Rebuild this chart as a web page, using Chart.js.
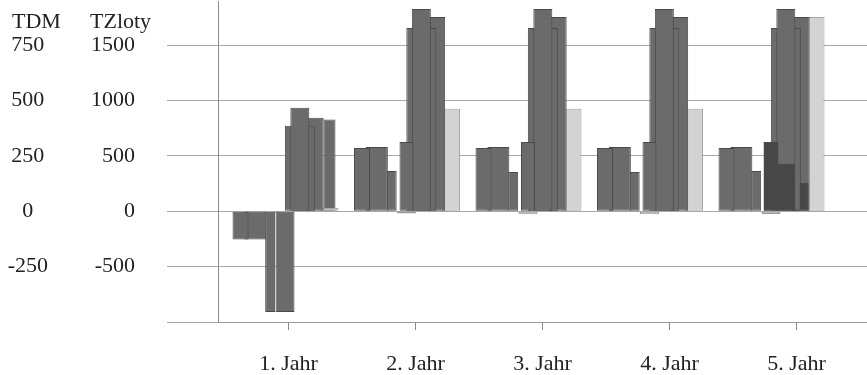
<!DOCTYPE html>
<html><head><meta charset="utf-8">
<script src="https://cdn.jsdelivr.net/npm/chart.js@4.4.1/dist/chart.umd.min.js"></script>
<style>html,body{margin:0;padding:0;background:#fff;}#wrap{width:867px;height:375px;position:relative;}</style>
</head><body><div id="wrap"><canvas id="c"></canvas></div>
<script>
// ---- data (TZloty scale) ----
const categories   = ['1. Jahr', '2. Jahr', '3. Jahr', '4. Jahr', '5. Jahr'];
const tickValues   = [-1000, -500, 0, 500, 1000, 1500];
const tzlotyLabels = ['', '-500', '0', '500', '1000', '1500'];
const tdmLabels    = ['', '-250', '0', '250', '500', '750'];

const seriesA  = [-255, 573, 573, 573, 573];
const seriesB  = [-255, 582, 582, 582, 582];
const seriesC  = [-909, 364, 355, 355, 364];
const seriesN  = [-909, -20, -27, -27, -25];
const seriesD  = [null, 627, 627, 627, 627];
const seriesE  = [773, 1655, 1655, 1655, 1655];
const seriesF  = [936, 1827, 1827, 1827, 1827];
const seriesG  = [845, 1755, 1755, 1755, 1755];
const seriesG1 = [830, null, null, null, null];
const seriesL  = [30, 927, 927, 927, 1755];
const darkD    = [null, null, null, null, 627];
const darkF    = [null, null, null, null, 427];
const darkG    = [null, null, null, null, 255];

// ---- styles ----
const DARK = '#6b6b6b', DARK_EDGE = '#4a4a4a';
const DEEP = '#474747';
const LIGHT = '#d3d3d3', LIGHT_EDGE = '#a5a5a5';
const TEXT = '#222';
const FONT = 'Liberation Serif';
const CAT_PCT = 0.8543;

function ds(data, stack, order, bp, color, edge) {
  return { data, stack, order, barPercentage: bp, categoryPercentage: CAT_PCT,
    backgroundColor: color, borderColor: edge, borderWidth: 1, borderSkipped: false };
}

const datasets = [
  ds(seriesA, 's0', 1, 1.079, DARK, DARK_EDGE),
  ds(seriesB, 's1', 2, 1.483, DARK, DARK_EDGE),
  ds(seriesC, 's2', 3, 0.674, DARK, DARK_EDGE),
  ds(darkD,   's3', 4, 1.011, DEEP, DARK_EDGE),
  ds(seriesD, 's3', 5, 0.944, DARK, DARK_EDGE),
  ds(seriesN, 's3', 6, 1.281, c => c.dataIndex === 0 ? DARK : '#c2c2c2', c => c.dataIndex === 0 ? DARK_EDGE : '#9a9a9a'),
  ds(darkF,   's4', 7, 1.281, DEEP, DARK_EDGE),
  ds(seriesF, 's4', 8, 1.281, DARK, DARK_EDGE),
  ds(seriesE, 's4', 9, 2.023, DARK, DARK_EDGE),
  ds(darkG,   's5', 10, 1.08, DEEP, DARK_EDGE),
  ds(seriesG, 's5', 11, 1.214, DARK, DARK_EDGE),
  ds(seriesL, 's6', 12, 1.214, LIGHT, LIGHT_EDGE),
  ds(seriesG1,'s6', 13, 0.809, DARK, DARK_EDGE)
];

// category windows (in category units): bars axis and the label/tick axis
const X_START = -0.5515, X_RANGE = 5.3416;
const XL_START = -0.5551, XL_RANGE = 5.1102;

const axisTitles = {
  id: 'axisTitles',
  afterDraw(chart) {
    const ctx = chart.ctx, y = chart.scales.y, y2 = chart.scales.y2;
    ctx.save();
    ctx.font = '22px "' + FONT + '"';
    ctx.fillStyle = TEXT;
    ctx.textAlign = 'left';
    ctx.textBaseline = 'alphabetic';
    ctx.fillText('TDM', y2.left + 12, chart.chartArea.top + 27);
    ctx.fillText('TZloty', y.left + 30, chart.chartArea.top + 27);
    ctx.restore();
  }
};

const setTicks = s => { s.ticks = tickValues.map(v => ({ value: v })); };
const noVPad = w => s => { s.width = w; s.paddingTop = 0; s.paddingBottom = 0; };

new Chart(document.getElementById('c'), {
  type: 'bar',
  data: { labels: categories, datasets },
  options: {
    responsive: true, maintainAspectRatio: false, animation: false,
    layout: { padding: { top: 1, left: 0, right: 0, bottom: 0 } },
    plugins: { legend: { display: false }, tooltip: { enabled: false } },
    scales: {
      x: {
        offset: true, weight: 0,
        afterBuildTicks: s => { s._startValue = X_START; s._valueRange = X_RANGE; },
        afterFit: s => { s.height = 0; s.paddingLeft = 0; s.paddingRight = 0; },
        grid: { display: true, drawOnChartArea: false, drawTicks: false },
        border: { display: true, color: '#9a9a9a', width: 1 },
        ticks: { display: false }
      },
      xLab: {
        type: 'category', position: 'bottom', weight: 1, offset: true,
        labels: categories,
        afterBuildTicks: s => { s._startValue = XL_START; s._valueRange = XL_RANGE; },
        afterFit: s => { s.height = 53; s.paddingLeft = 0; s.paddingRight = 0; },
        grid: { display: true, drawOnChartArea: false, drawTicks: true, tickLength: 8, offset: false, color: '#8a8a8a' },
        border: { display: false },
        ticks: { color: TEXT, padding: 21, maxRotation: 0, autoSkip: false, font: { family: FONT, size: 22 } }
      },
      y: {
        position: 'left', weight: 0, stacked: false,
        min: -1000, max: 1900,
        afterBuildTicks: setTicks,
        afterFit: noVPad(158),
        grid: { color: '#a8a8a8', tickColor: '#a8a8a8', tickLength: 51, drawTicks: true, lineWidth: 1 },
        border: { display: true, color: '#8c8c8c', width: 1 },
        ticks: { color: TEXT, padding: 32, font: { family: FONT, size: 22 },
                 callback: (v, i) => tzlotyLabels[i] }
      },
      y2: {
        position: 'left', weight: 1, stacked: false,
        min: -1000, max: 1900,
        afterBuildTicks: setTicks,
        afterFit: noVPad(60),
        grid: { display: false },
        border: { display: false },
        ticks: { color: TEXT, padding: 4, crossAlign: 'center', font: { family: FONT, size: 22 },
                 callback: (v, i) => tdmLabels[i] }
      }
    }
  },
  plugins: [axisTitles]
});
</script>
</body></html>
